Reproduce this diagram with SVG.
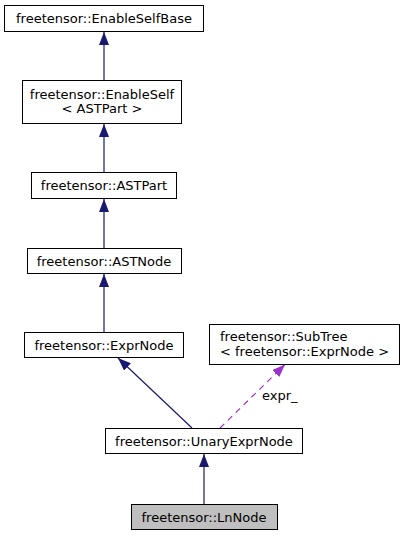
<svg xmlns="http://www.w3.org/2000/svg" width="405" height="536" viewBox="0 0 405 536">
<defs>
<style>
.box{fill:#fff;stroke:#000;stroke-width:1}
.t{font-family:"DejaVu Sans",sans-serif;font-size:13px;fill:#000;text-anchor:middle}
.e{stroke:#191970;stroke-width:1.2;fill:none}
.d{stroke:#9a32cd;stroke-width:1.2;fill:none;stroke-dasharray:6,5}
</style>
<marker id="ah" viewBox="0 0 13 10" refX="13" refY="5" markerWidth="13" markerHeight="10" markerUnits="userSpaceOnUse" orient="auto">
<path d="M0,0 L13,5 L0,10 Z" fill="#191970"/>
</marker>
<marker id="ap" viewBox="0 0 13 10" refX="13" refY="5" markerWidth="13" markerHeight="10" markerUnits="userSpaceOnUse" orient="auto">
<path d="M0,0 L13,5 L0,10 Z" fill="#9a32cd"/>
</marker>
</defs>
<rect width="405" height="536" fill="#fff"/>
<g id="edges">
<path class="e" d="M104,80 V32" marker-end="url(#ah)"/>
<path class="e" d="M104,172 V124" marker-end="url(#ah)"/>
<path class="e" d="M104,248 V199" marker-end="url(#ah)"/>
<path class="e" d="M104,332 V274" marker-end="url(#ah)"/>
<path class="e" d="M192,428 L118,358" marker-end="url(#ah)"/>
<path class="d" d="M220,428 L285,364.5" marker-end="url(#ap)"/>
<text class="t" x="262" y="400" style="text-anchor:start">expr_</text>
<path class="e" d="M204,504 V454" marker-end="url(#ah)"/>
</g>
<g id="n1"><rect class="box" x="4.5" y="5.5" width="199" height="26"/><text class="t" x="104" y="22.5">freetensor::EnableSelfBase</text></g>
<g id="n2"><rect class="box" x="22.5" y="80.5" width="159" height="43"/><text class="t" x="102" y="99">freetensor::EnableSelf</text><text class="t" x="102" y="113">&lt; ASTPart &gt;</text></g>
<g id="n3"><rect class="box" x="31.5" y="172.5" width="145" height="26"/><text class="t" x="104" y="189.5">freetensor::ASTPart</text></g>
<g id="n4"><rect class="box" x="27.5" y="248.5" width="154" height="25"/><text class="t" x="104" y="265.5">freetensor::ASTNode</text></g>
<g id="n5"><rect class="box" x="24.5" y="332.5" width="159" height="25"/><text class="t" x="104" y="349.5">freetensor::ExprNode</text></g>
<g id="n6"><rect class="box" x="209.5" y="324.5" width="190" height="40"/><text class="t" x="220" y="341" style="text-anchor:start">freetensor::SubTree</text><text class="t" x="220" y="356" style="text-anchor:start">&lt; freetensor::ExprNode &gt;</text></g>
<g id="n7"><rect class="box" x="105.5" y="428.5" width="197" height="25"/><text class="t" x="204" y="445.5">freetensor::UnaryExprNode</text></g>
<g id="n8"><rect class="box" x="131.5" y="504.5" width="146" height="25" style="fill:#bfbfbf"/><text class="t" x="204" y="521.5">freetensor::LnNode</text></g>
</svg>
